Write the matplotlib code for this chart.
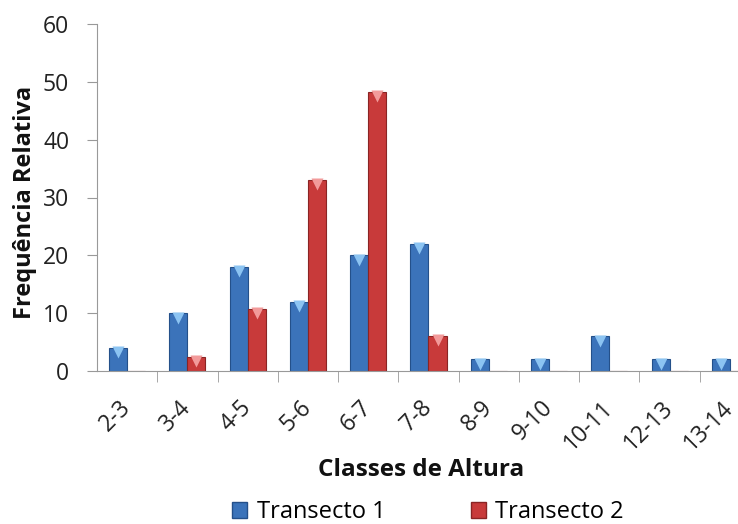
import numpy as np
import matplotlib
matplotlib.use("Agg")
import matplotlib.pyplot as plt
from matplotlib.patches import Patch

classes = ["2-3", "3-4", "4-5", "5-6", "6-7", "7-8", "8-9", "9-10", "10-11", "12-13", "13-14"]
transecto1 = [4, 10, 18, 12, 20, 22, 2, 2, 6, 2, 2]
transecto2 = [0, 2.5, 10.7, 33, 48.3, 6.1, 0, 0, 0, 0, 0]

plt.rcParams["font.family"] = ["Open Sans", "DejaVu Sans"]

blue, blue_dark, blue_light = "#3b73ba", "#24508a", "#8cc4f2"
red, red_dark, red_light = "#c83a3a", "#8a2424", "#f29a9a"

fig = plt.figure(figsize=(7.38, 5.24), dpi=100)
ax = fig.add_axes([97 / 738, 1 - 371 / 524, 663 / 738, 347 / 524])

x = np.arange(len(classes))
w = 0.3
ax.bar(x - w / 2, transecto1, w, color=blue, edgecolor=blue_dark, linewidth=0.8, zorder=2)
ax.bar(x + w / 2, transecto2, w, color=red, edgecolor=red_dark, linewidth=0.8, zorder=2)

# little bevel triangles on bar tops
for xs, vals, c in [(x - w / 2, transecto1, blue_light), (x + w / 2, transecto2, red_light)]:
    for xi, v in zip(xs, vals):
        if v > 0:
            ax.plot(xi, v - 0.75, marker="v", ms=8, color=c, mec="none", zorder=3)

ax.set_xlim(-0.5, len(classes) - 0.5)
ax.set_ylim(0, 60)
ax.set_yticks(range(0, 61, 10))
ax.tick_params(axis="y", labelsize=16.5, length=7, color="#999999", labelcolor="#222222", pad=13)

ax.set_xticks(x)
ax.set_xticklabels(classes, rotation=45, ha="right", va="center", rotation_mode="anchor", fontsize=16.5, color="#222222")
ax.set_xticks(x[:-1] + 0.5, minor=True)
ax.tick_params(axis="x", which="major", length=0, pad=24)
ax.tick_params(axis="x", which="minor", length=8, color="#999999")

for s in ["top", "right"]:
    ax.spines[s].set_visible(False)
for s in ["left", "bottom"]:
    ax.spines[s].set_color("#999999")

fig.text(25 / 738, 1 - 202 / 524, "Frequência Relativa", rotation=90, ha="center", va="center",
         fontsize=17, fontweight="bold", color="#111111")
fig.text(421 / 738, 1 - 470 / 524, "Classes de Altura", ha="center", va="center",
         fontsize=17.5, fontweight="bold", color="#111111")

handles = [Patch(facecolor=blue, edgecolor=blue_dark), Patch(facecolor=red, edgecolor=red_dark)]
fig.legend(handles, ["Transecto 1", "Transecto 2"], loc="center", bbox_to_anchor=(428 / 738, 1 - 512 / 524),
           ncol=2, frameon=False, fontsize=17, columnspacing=3.6, handlelength=0.65, handleheight=0.65,
           handletextpad=0.4)

fig.savefig("out.png", dpi=100)
